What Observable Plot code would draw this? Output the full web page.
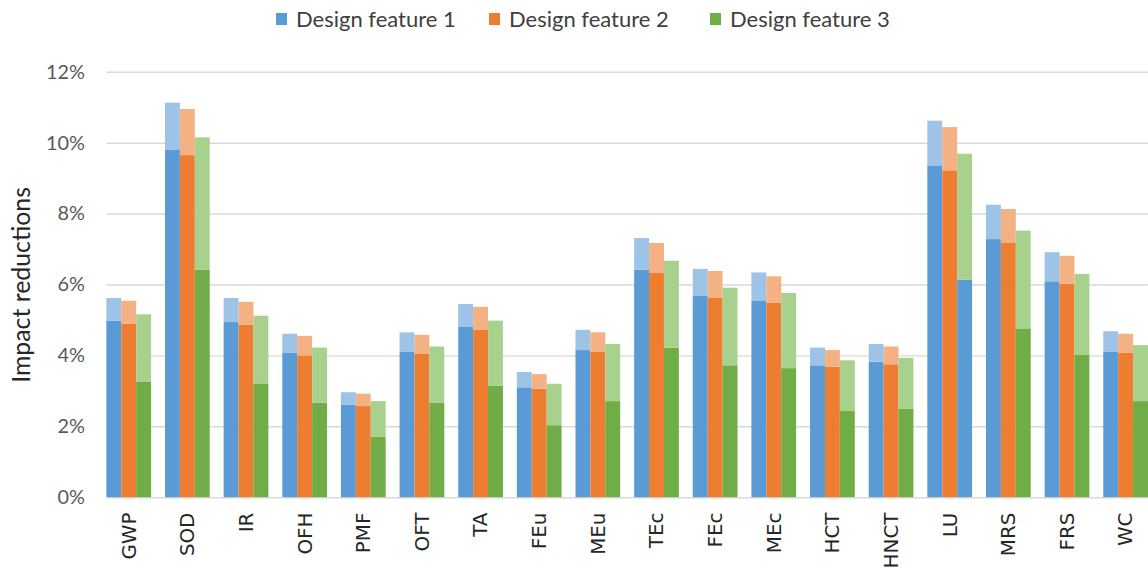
<!DOCTYPE html>
<html>
<head>
<meta charset="utf-8">
<script src="https://cdn.jsdelivr.net/npm/d3@7"></script>
<script src="https://cdn.jsdelivr.net/npm/@observablehq/plot@0.6"></script>
<style>
  html, body { margin: 0; padding: 0; background: #fff; overflow: hidden; width: 1148px; height: 568px; }
  #legend { position: relative; height: 36px; font-family: Lato, "Open Sans", sans-serif; font-size: 22px; color: #404040; }
  .item { position: absolute; top: 5px; display: flex; align-items: center; white-space: nowrap; }
  .sw { width: 11px; height: 12px; margin-right: 9px; }
  #chart svg { display: block; overflow: visible; }
</style>
</head>
<body>
<div id="legend"></div>
<div id="chart"></div>
<script>
const categories = ["GWP","SOD","IR","OFH","PMF","OFT","TA","FEu","MEu","TEc","FEc","MEc","HCT","HNCT","LU","MRS","FRS","WC"];
const seriesNames = ["Design feature 1","Design feature 2","Design feature 3"];
// solid (lower) part and total (top of the lighter part), in %
const df1Base  = [4.98,9.81,4.94,4.07,2.61,4.11,4.80,3.10,4.15,6.42,5.69,5.55,3.72,3.82,9.36,7.28,6.09,4.11];
const df1Total = [5.62,11.13,5.62,4.61,2.96,4.65,5.45,3.53,4.72,7.31,6.44,6.34,4.22,4.32,10.62,8.25,6.91,4.68];
const df2Base  = [4.90,9.65,4.87,4.00,2.57,4.04,4.73,3.06,4.11,6.34,5.62,5.48,3.68,3.75,9.22,7.17,6.02,4.07];
const df2Total = [5.54,10.95,5.51,4.55,2.92,4.58,5.37,3.47,4.65,7.17,6.38,6.23,4.15,4.25,10.44,8.13,6.81,4.61];
const df3Base  = [3.25,6.42,3.21,2.67,1.70,2.67,3.14,2.03,2.71,4.22,3.72,3.64,2.43,2.50,6.13,4.76,4.01,2.71];
const df3Total = [5.16,10.15,5.12,4.22,2.71,4.25,4.98,3.20,4.32,6.67,5.91,5.76,3.86,3.93,9.69,7.52,6.30,4.29];
const yTicks = [0,2,4,6,8,10,12];
const yLabel = "Impact reductions";

const solidColors = ["#5B9BD5","#ED7D31","#70AD47"];
const lightColors = ["#9DC3E6","#F4B183","#A9D18E"];

const bases = [df1Base, df2Base, df3Base];
const totals = [df1Total, df2Total, df3Total];

// legend
const legendX = [276, 489, 710];
const legend = d3.select("#legend");
seriesNames.forEach((name, i) => {
  const it = legend.append("div").attr("class", "item").style("left", legendX[i] + "px");
  it.append("div").attr("class", "sw").style("background", solidColors[i]);
  it.append("span").text(name);
});

const rows = [];
categories.forEach((c, ci) => {
  for (let s = 0; s < 3; s++) rows.push({cat: c, s, base: bases[s][ci], total: totals[s][ci]});
});

// the reference draws the lower segment of LU / feature 3 in blue
const solidFill = d => (d.cat === "LU" && d.s === 2) ? solidColors[0] : solidColors[d.s];

const barW = 15;
const insets = [[0, 2 * barW], [barW, barW], [2 * barW, 0]];
const barMarks = [];
for (let s = 0; s < 3; s++) {
  const data = rows.filter(d => d.s === s);
  barMarks.push(Plot.barY(data, {x: "cat", y1: 0, y2: "base", fill: solidFill, insetLeft: insets[s][0], insetRight: insets[s][1]}));
  barMarks.push(Plot.barY(data, {x: "cat", y1: "base", y2: "total", fill: lightColors[s], insetLeft: insets[s][0], insetRight: insets[s][1]}));
}

const chart = Plot.plot({
  width: 1155,
  height: 532,
  marginLeft: 107,
  marginRight: 0,
  marginTop: 36,
  marginBottom: 68,
  style: {background: "transparent"},
  x: {domain: categories, paddingInner: 14 / 59, paddingOuter: 0, align: 0, axis: null},
  y: {domain: [0, 12], axis: null},
  marks: [
    Plot.ruleY(yTicks, {stroke: "#d9d9d9", strokeWidth: 1.5}),
    ...barMarks,
    Plot.axisY(yTicks, {tickSize: 0, tickPadding: 22, tickFormat: d => d + "%", fontSize: 20, fontFamily: "Lato, sans-serif", fill: "#595959", label: null}),
    Plot.axisX({tickSize: 0, tickRotate: -90, tickPadding: 15, fontSize: 20, fontFamily: "DejaVu Sans, sans-serif", fill: "#262626", label: null}),
    Plot.text([yLabel], {y: 6, frameAnchor: "left", textAnchor: "middle", dx: -85, rotate: -90, fontSize: 25, fontFamily: "Lato, sans-serif", fill: "#262626"})
  ]
});
document.getElementById("chart").appendChild(chart);
</script>
</body>
</html>
